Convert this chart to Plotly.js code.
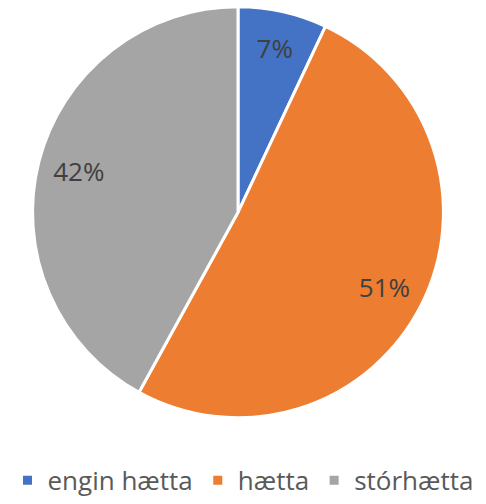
<!DOCTYPE html>
<html>
<head>
<meta charset="utf-8">
<script src="https://cdn.plot.ly/plotly-3.0.1.min.js"></script>
<style>html,body{margin:0;padding:0;background:#fff;}</style>
</head>
<body>
<div id="chart" style="width:486px;height:504px;"></div>
<script>
var categories = ["engin hætta", "hætta", "stórhætta"];
var values = [7, 51, 42];
var colors = ["#4472C4", "#ED7D31", "#A5A5A5"];

var domain = {x: [28/486, 448/486], y: [1 - 427/504, 1 - 7/504]};

var mainPie = {
  type: "pie",
  labels: categories,
  values: values,
  sort: false,
  direction: "clockwise",
  rotation: 0,
  domain: domain,
  marker: {colors: colors, line: {color: "#ffffff", width: 3}},
  textinfo: "none",
  hoverinfo: "label+percent",
  showlegend: true
};

var labelPie = {
  type: "pie",
  labels: categories,
  values: values,
  sort: false,
  direction: "clockwise",
  rotation: 0,
  domain: domain,
  hole: 0.6,
  marker: {colors: ["rgba(0,0,0,0)", "rgba(0,0,0,0)", "rgba(0,0,0,0)"], line: {width: 0}},
  textinfo: "percent",
  texttemplate: "%{percent:.0%}",
  textposition: "inside",
  insidetextorientation: "horizontal",
  textfont: {family: "Open Sans", size: 26, color: "#404040"},
  hoverinfo: "skip",
  showlegend: false
};

var layout = {
  width: 486,
  height: 504,
  margin: {l: 0, r: 0, t: 0, b: 0},
  paper_bgcolor: "#ffffff",
  showlegend: true,
  legend: {
    orientation: "h",
    x: 0.5,
    xanchor: "center",
    y: 1 - 491/504,
    yanchor: "middle",
    font: {family: "Open Sans", size: 26, color: "#595959"},
    itemclick: false,
    traceorder: "normal"
  },
  uniformtext: {mode: false}
};

Plotly.newPlot("chart", [mainPie, labelPie], layout, {displayModeBar: false, staticPlot: true});
</script>
</body>
</html>
